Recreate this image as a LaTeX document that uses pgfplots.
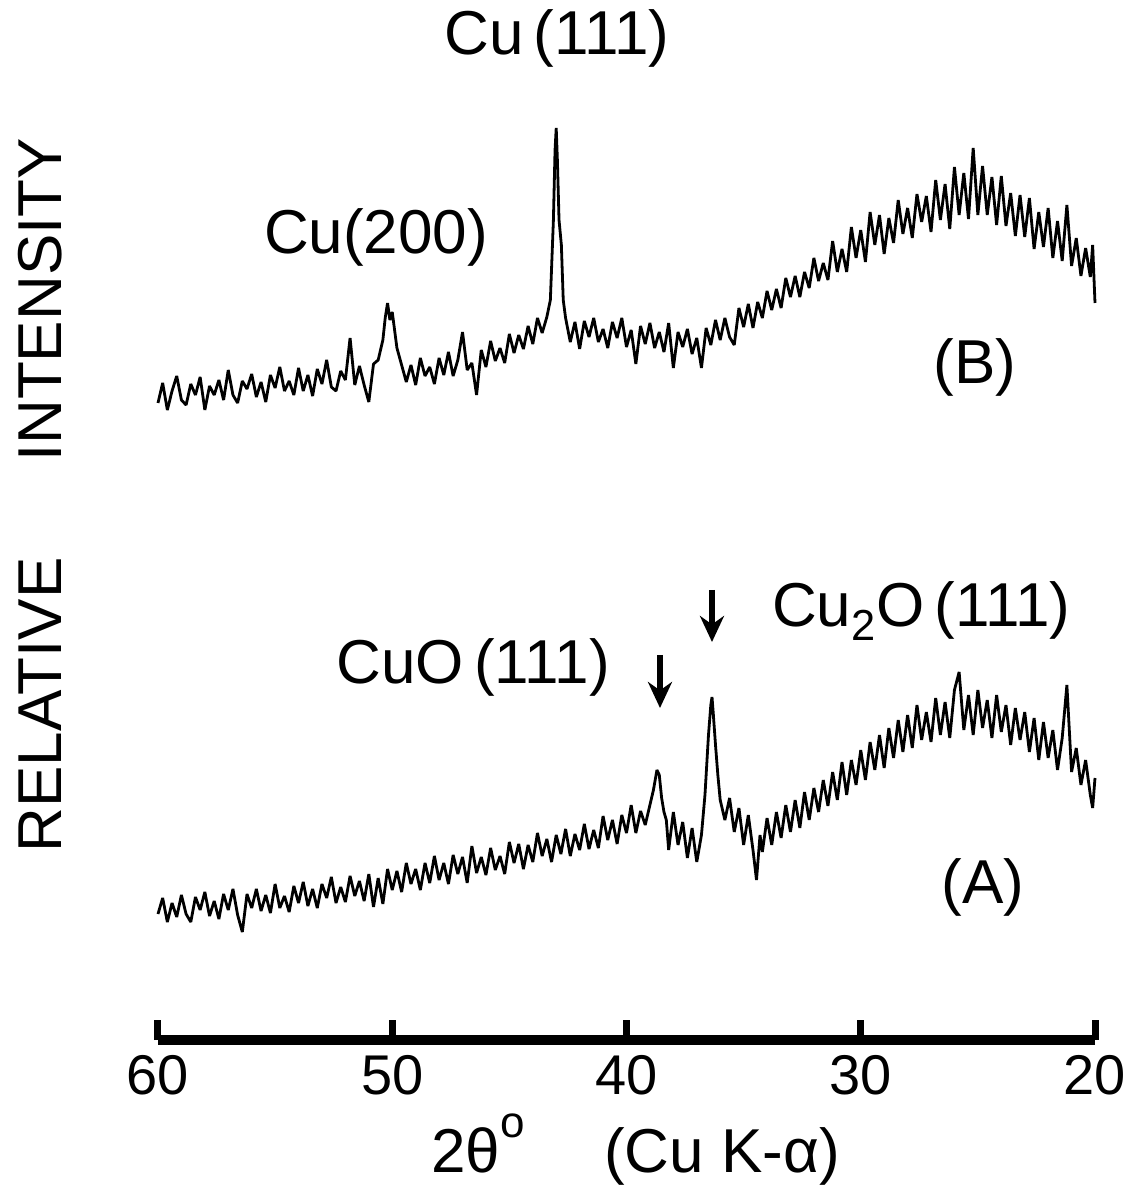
\documentclass[border=0pt]{standalone}
\usepackage{pgfplots}
\usepackage{pgfplotstable}
\pgfplotsset{compat=1.18}
\usepackage{fontspec}
\setmainfont{Liberation Sans}
\usetikzlibrary{arrows.meta}

% py = height (pixels, downwards), plotted negated
\pgfplotstableread{
deg py
60.0 403
59.8 383
59.6 410
59.4 391
59.2 376
59.0 400
58.8 405
58.6 384
58.4 395
58.2 377
58.0 410
57.8 386
57.6 395
57.4 380
57.2 400
57.0 370
56.8 395
56.6 403
56.4 381
56.2 389
56.0 374
55.8 397
55.6 382
55.4 402
55.2 375
55.0 388
54.8 367
54.6 391
54.4 381
54.2 395
54.0 368
53.8 391
53.6 375
53.4 396
53.2 369
53.0 384
52.8 360
52.6 387
52.4 391
52.2 371
52.0 380
51.8 338
51.6 385
51.4 366
51.2 385
51.0 402
50.8 364
50.6 360
50.4 340
50.3 318
50.2 303
50.1 320
50.0 312
49.9 330
49.8 348
49.6 365
49.4 382
49.2 365
49.0 385
48.8 358
48.6 376
48.4 367
48.2 384
48.0 358
47.8 375
47.6 352
47.4 376
47.2 360
47.0 332
46.8 370
46.6 363
46.4 395
46.2 350
46.0 367
45.8 341
45.6 361
45.4 348
45.2 363
45.0 334
44.8 353
44.6 335
44.4 349
44.2 326
44.0 344
43.8 318
43.6 333
43.4 317
43.25 300
43.12 220
43.05 150
43.0 128
42.95 160
42.88 220
42.78 245
42.7 300
42.6 318
42.4 342
42.2 322
42.0 349
41.8 321
41.6 337
41.4 318
41.2 342
41.0 329
40.8 348
40.6 322
40.4 338
40.2 318
40.0 347
39.8 330
39.6 364
39.4 326
39.2 344
39.0 323
38.8 348
38.6 332
38.4 352
38.2 323
38.0 368
37.8 332
37.6 347
37.4 329
37.2 354
37.0 338
36.8 368
36.6 328
36.4 345
36.2 320
36.0 340
35.8 318
35.6 337
35.4 345
35.2 308
35.0 327
34.8 304
34.6 328
34.4 302
34.2 318
34.0 291
33.8 310
33.6 289
33.4 308
33.2 278
33.0 297
32.8 276
32.6 297
32.4 272
32.2 288
32.0 258
31.8 281
31.6 263
31.4 280
31.2 241
31.0 272
30.8 249
30.6 272
30.4 227
30.2 258
30.0 230
29.8 262
29.6 212
29.4 245
29.2 215
29.0 254
28.8 218
28.6 243
28.4 200
28.2 234
28.0 208
27.8 238
27.6 194
27.4 222
27.2 196
27.0 232
26.8 180
26.6 220
26.4 184
26.2 229
26.0 167
25.8 215
25.6 173
25.4 219
25.2 148
25.0 215
24.8 166
24.6 215
24.4 177
24.2 225
24.0 176
23.8 226
23.6 193
23.4 236
23.2 195
23.0 237
22.8 198
22.6 249
22.4 212
22.2 247
22.0 208
21.8 258
21.6 221
21.4 261
21.2 205
21.0 266
20.8 238
20.6 276
20.4 248
20.2 277
20.1 245
20.0 303
}\curveB

\pgfplotstableread{
deg py
60.0 914
59.8 898
59.6 922
59.4 903
59.2 917
59.0 895
58.8 914
58.6 922
58.4 897
58.2 910
58.0 892
57.8 916
57.6 901
57.4 919
57.2 894
57.0 910
56.8 889
56.6 915
56.4 932
56.2 894
56.0 908
55.8 889
55.6 911
55.4 895
55.2 913
55.0 884
54.8 908
54.6 896
54.4 912
54.2 886
54.0 903
53.8 882
53.6 906
53.4 889
53.2 908
53.0 884
52.8 898
52.6 877
52.4 903
52.2 887
52.0 902
51.8 876
51.6 896
51.4 881
51.2 901
51.0 874
50.8 907
50.6 878
50.4 904
50.2 869
50.0 890
49.8 871
49.6 892
49.4 863
49.2 884
49.0 869
48.8 890
48.6 863
48.4 883
48.2 856
48.0 880
47.8 863
47.6 884
47.4 855
47.2 874
47.0 857
46.8 883
46.6 846
46.4 873
46.2 857
46.0 875
45.8 848
45.6 870
45.4 856
45.2 874
45.0 842
44.8 863
44.6 844
44.4 869
44.2 845
44.0 862
43.8 833
43.6 856
43.4 839
43.2 862
43.0 835
42.8 854
42.6 829
42.4 856
42.2 834
42.0 850
41.8 824
41.6 849
41.4 830
41.2 848
41.0 816
40.8 840
40.6 820
40.4 844
40.2 815
40.0 833
39.8 805
39.6 833
39.4 811
39.2 825
39.0 805
38.85 790
38.7 770
38.6 775
38.5 798
38.4 812
38.3 820
38.2 850
38.0 812
37.8 845
37.6 822
37.4 858
37.2 828
37.0 862
36.8 835
36.65 795
36.5 735
36.4 705
36.35 697
36.3 712
36.2 745
36.1 775
36.0 800
35.8 820
35.6 798
35.4 832
35.2 808
35.0 845
34.8 815
34.6 850
34.45 880
34.3 835
34.2 852
34.0 818
33.8 845
33.6 812
33.4 838
33.2 805
33.0 832
32.8 800
32.6 828
32.4 792
32.2 820
32.0 788
31.8 812
31.6 780
31.4 806
31.2 772
31.0 800
30.8 762
30.6 795
30.4 760
30.2 785
30.0 750
29.8 780
29.6 742
29.4 770
29.2 735
29.0 768
28.8 728
28.6 758
28.4 720
28.2 752
28.0 715
27.8 748
27.6 705
27.4 740
27.2 712
27.0 742
26.8 698
26.6 735
26.4 702
26.2 738
26.0 690
25.8 672
25.6 730
25.4 695
25.2 735
25.0 690
24.8 728
24.6 700
24.4 738
24.2 695
24.0 732
23.8 705
23.6 745
23.4 708
23.2 740
23.0 712
22.8 752
22.6 718
22.4 760
22.2 722
22.0 758
21.8 730
21.6 770
21.4 738
21.2 685
21.0 772
20.8 748
20.6 785
20.4 760
20.2 795
20.1 808
20.0 778
}\curveA

\begin{document}
\begin{tikzpicture}
\begin{axis}[
  scale only axis, width=468.5pt, height=470pt,
  xmin=20, xmax=60, x dir=reverse,
  ymin=-1040, ymax=-100,
  enlargelimits=false, clip=false,
  axis x line*=bottom, axis y line=none,
  axis line style={line width=5pt},
  xtick={20,30,40,50,60},
  tick align=inside, major tick length=10pt,
  tick style={line width=3.5pt, black},
  xticklabel style={font=\fontsize{28}{30}\selectfont, yshift=-4pt},
  /pgf/number format/assume math mode=true]
\addplot[black, line width=1.4pt, line join=bevel] table[x=deg, y expr=-\thisrow{py}] {\curveB};
\addplot[black, line width=1.4pt, line join=bevel] table[x=deg, y expr=-\thisrow{py}] {\curveA};
\begin{scope}[every node/.style={font=\fontsize{31}{34}\selectfont}]
\node at (axis cs:42.97,-38) {Cu\,(111)};
\node at (axis cs:50.69,-237) {Cu(200)};
\node at (axis cs:25.12,-367) {(B)};
\node at (axis cs:46.55,-667) {CuO\,(111)};
\node[anchor=base west] at (axis cs:34.09,-627) {Cu\textsubscript{2}O\,(111)};
\node at (axis cs:24.78,-887) {(A)};
\node[rotate=90] at (axis cs:65.04,-705) {RELATIVE};
\node[rotate=90] at (axis cs:65.04,-300) {INTENSITY};
\node[anchor=base] at (axis cs:46.34,-1172) {2θ\raisebox{0.55em}{\fontsize{22}{22}\selectfont o}};
\node[anchor=base] at (axis cs:35.92,-1172) {(Cu K-α)};
\end{scope}
\draw[line width=3pt, -{Stealth[length=13pt, width=12pt]}] (axis cs:38.57,-655) -- (axis cs:38.57,-708);
\draw[line width=3pt, -{Stealth[length=13pt, width=12pt]}] (axis cs:36.35,-590) -- (axis cs:36.35,-642);
\coordinate (bbl) at (axis cs:66.745,-1187);
\coordinate (btr) at (axis cs:18.505,0);
\end{axis}
\pgfresetboundingbox
\useasboundingbox (bbl) rectangle (btr);
\end{tikzpicture}
\end{document}
